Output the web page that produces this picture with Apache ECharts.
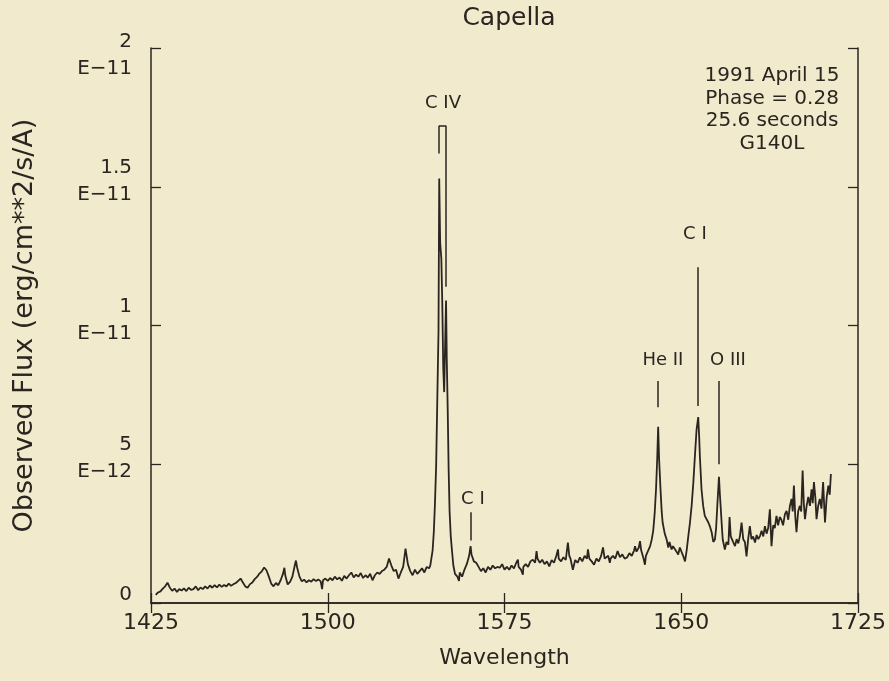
<!DOCTYPE html>
<html>
<head>
<meta charset="utf-8">
<script src="https://cdn.jsdelivr.net/npm/echarts@6/dist/echarts.min.js"></script>
<style>
html,body{margin:0;padding:0;background:#f1eacc;}
#chart{width:889px;height:681px;}
</style>
</head>
<body>
<div id="chart"></div>
<script>
// Flux values are in units of 1E-12 erg/cm**2/s/A
var specA = [[1427,0.29],[1428,0.38],[1429,0.42],[1430,0.52],[1431,0.6],[1432,0.73],[1433,0.55],[1434,0.44],[1435,0.52],[1436,0.4],[1437,0.5],[1438,0.45],[1439,0.53],[1440,0.43],[1441,0.55],[1442,0.47],[1443,0.5],[1444,0.6],[1445,0.46],[1446,0.56],[1447,0.5],[1448,0.6],[1449,0.52],[1450,0.63],[1451,0.55],[1452,0.64],[1453,0.56],[1454,0.66],[1455,0.58],[1456,0.65],[1457,0.6],[1458,0.7],[1459,0.62],[1460,0.68],[1461,0.72],[1462,0.8],[1463,0.88],[1464,0.74],[1465,0.6],[1466,0.55],[1467,0.68],[1468,0.74],[1469,0.86],[1470,0.94],[1471,1.06],[1472,1.14],[1473,1.28],[1474,1.18],[1475,0.95],[1476,0.7],[1477,0.6],[1478,0.72],[1479,0.64],[1480,0.82],[1481,1.05],[1481.6,1.27],[1482,0.98],[1483,0.67],[1484,0.76],[1485,0.95],[1486,1.35],[1486.5,1.53],[1487,1.28],[1488,0.95],[1489,0.78],[1490,0.84],[1491,0.74],[1492,0.82],[1493,0.77],[1494,0.86],[1495,0.79],[1496,0.85],[1497,0.78],[1497.6,0.5],[1498,0.82],[1499,0.88],[1500,0.8]];
var specB = [[1501,0.9],[1502,0.82],[1503,0.95],[1504,0.85],[1505,0.92],[1506,0.8],[1507,0.98],[1508,0.88],[1509,1.0],[1510,1.1],[1511,0.92],[1512,1.02],[1513,0.95],[1514,1.08],[1515,0.9],[1516,1.0],[1517,0.92],[1518,1.05],[1519,0.82],[1520,1.0],[1521,1.1],[1522,1.05],[1523,1.15],[1524,1.2],[1525,1.3],[1526,1.6],[1527,1.35],[1528,1.15],[1529,1.2],[1530,0.88],[1531,1.1],[1532,1.3],[1533,1.96],[1534,1.4],[1535,1.15],[1536,1.0],[1537,1.2],[1538,1.05],[1539,1.15],[1540,1.25],[1541,1.1],[1542,1.3],[1543,1.25],[1543.5,1.35],[1544,1.4],[1544.5,1.9],[1545,2.55],[1545.5,3.6],[1546,4.96],[1546.5,7.4],[1547,9.8],[1547.3,15.3],[1547.7,13.0],[1548.2,12.4],[1548.6,10.8],[1549,8.5],[1549.4,7.6],[1549.8,9.3],[1550.2,10.9],[1550.5,8.8],[1550.9,7.0],[1551.3,4.8],[1551.7,3.3],[1552.2,2.4],[1552.7,1.9],[1553.3,1.35],[1554,1.05],[1555,0.95],[1555.7,0.8],[1556,1.1],[1557,0.95],[1558,1.2],[1559,1.4],[1560,1.7],[1560.6,2.05],[1561,1.75],[1562,1.5],[1563,1.45],[1564,1.3],[1565,1.15],[1566,1.25],[1567,1.1],[1568,1.3],[1569,1.2],[1570,1.35],[1571,1.25],[1572,1.3],[1573,1.27],[1574,1.4],[1575,1.2]];
var specC = [[1576,1.3],[1577,1.2],[1578,1.35],[1579,1.25],[1580,1.45],[1580.7,1.56],[1581,1.3],[1582,1.2],[1582.8,1.02],[1583,1.3],[1584,1.4],[1585,1.3],[1586,1.5],[1587,1.56],[1588,1.45],[1588.6,1.87],[1589,1.6],[1590,1.45],[1591,1.56],[1592,1.4],[1593,1.5],[1594,1.32],[1595,1.55],[1596,1.45],[1597,1.7],[1597.7,1.93],[1598,1.6],[1599,1.5],[1600,1.65],[1601,1.55],[1601.9,2.18],[1602.5,1.7],[1603,1.6],[1604,1.2],[1605,1.55],[1606,1.45],[1607,1.64],[1608,1.5],[1609,1.7],[1610,1.6],[1610.4,1.93],[1611,1.6],[1612,1.5],[1613,1.38],[1614,1.6],[1615,1.5],[1616,1.7],[1616.8,2.0],[1617.5,1.6],[1618,1.55],[1619,1.7],[1619.7,1.45],[1620,1.6],[1621,1.7],[1622,1.6],[1623,1.87],[1624,1.65],[1625,1.75],[1626,1.6],[1627,1.64],[1628,1.8],[1629,1.7],[1630,1.9],[1630.4,2.05],[1631,1.85],[1632,2.0],[1632.5,2.23],[1633,1.9],[1634,1.6],[1634.6,1.38],[1635,1.7],[1636,1.9],[1636.8,2.05],[1637.5,2.3],[1638.1,2.6],[1638.7,3.2],[1639.3,4.1],[1639.8,5.2],[1640.2,6.35],[1640.6,5.2],[1641.2,4.1],[1641.7,3.3],[1642.1,2.9],[1643,2.5],[1643.8,2.29],[1644.5,2.0],[1645,2.2],[1645.9,1.93],[1646.5,2.05],[1647.3,2.1],[1648,1.85],[1648.7,1.75],[1649.4,2.0],[1650.1,1.93]];
var specD = [[1650.8,1.7],[1651.6,1.5],[1652.3,1.9],[1653,2.41],[1653.7,2.9],[1654.4,3.5],[1655.1,4.3],[1655.8,5.3],[1656.5,6.25],[1657.2,6.7],[1657.6,6.0],[1657.9,5.3],[1658.6,4.1],[1659.3,3.5],[1660,3.14],[1660.7,3.2],[1661.5,2.9],[1662.2,2.75],[1662.9,2.55],[1663.6,2.2],[1664.3,2.29],[1664.8,2.7],[1665.3,3.5],[1666,4.55],[1666.4,3.9],[1666.7,3.5],[1667.2,2.8],[1667.6,2.29],[1668.5,1.93],[1669.2,2.2],[1670,2.1],[1670.5,3.1],[1671,2.4],[1672,2.2],[1672.8,2.05],[1673.5,2.3],[1674.2,2.15],[1674.9,2.41],[1675.6,2.9],[1676.3,2.3],[1677,2.2],[1677.7,1.68],[1678.4,2.3],[1679.1,2.77],[1679.8,2.3],[1680.5,2.4],[1681.3,2.18],[1682,2.45],[1682.7,2.3],[1683.4,2.41],[1684.1,2.6],[1684.8,2.4],[1685.5,2.77],[1686.2,2.5],[1686.9,2.7],[1687.6,3.38],[1688.3,2.05],[1689,2.8],[1689.7,2.7],[1690.4,3.14],[1691.1,2.8],[1691.8,3.1],[1692.5,3.0],[1693.2,2.8],[1694,3.2],[1694.7,3.32],[1695.4,3.0],[1696.1,3.5],[1696.8,3.75],[1697.3,3.3],[1697.8,4.23],[1698.4,3.1],[1698.9,2.55],[1699.6,3.3],[1700.3,3.5],[1700.9,3.3],[1701.5,4.77],[1702,3.6],[1702.5,3.02],[1703.2,3.5],[1703.9,3.82],[1704.6,3.5],[1705.3,4.1],[1705.8,3.6],[1706.3,4.36],[1706.9,3.8],[1707.4,3.02],[1708.1,3.5],[1708.8,3.75],[1709.5,3.4],[1710.2,4.36],[1710.6,3.6],[1711,2.9],[1711.7,3.8],[1712.4,4.23],[1713,3.9],[1713.5,4.65]];

var xTicks = [1425, 1500, 1575, 1650, 1725];
var yTickValues = [0, 5, 10, 15, 20];
var yTickMantissa = ['0', '5', '1', '1.5', '2'];
var yTickExponent = ['', 'E\u221212', 'E\u221211', 'E\u221211', 'E\u221211'];

// line identifications: name, wavelength / flux of label centre
var lineIdNames = ['C IV', 'C I', 'He II', 'C I', 'O III'];
var lineIdPos = [[1548.9, 18.0], [1561.6, 3.75], [1642.2, 8.75], [1655.8, 13.3], [1669.8, 8.75]];
// marker segments: [lambda1, flux1, lambda2, flux2]
var markerSegs = [[1547.2,16.2,1547.2,17.2],[1547.2,17.2,1550.2,17.2],[1550.2,17.2,1550.2,11.4],[1560.6,3.27,1560.6,2.25],[1640.2,8.0,1640.2,7.05],[1657.0,12.1,1657.0,7.1],[1666.0,8.0,1666.0,5.0]];

var infoLines = ['1991 April 15', 'Phase = 0.28', '25.6 seconds', 'G140L'];

var ink = '#2b2521';
var font = 'DejaVu Sans';
var spectrum = specA.concat(specB, specC, specD);

var chart = echarts.init(document.getElementById('chart'), null, {renderer: 'canvas'});

function yFmt(v) {
  var i = yTickValues.indexOf(v);
  if (i < 0) return '';
  if (i === 0) return '{n|' + yTickMantissa[i] + '}\n{g0| }';
  if (i === yTickValues.length - 1) return '{gt| }\n{n|' + yTickMantissa[i] + '}\n{n|' + yTickExponent[i] + '}';
  return '{n|' + yTickMantissa[i] + '}\n{n|' + yTickExponent[i] + '}\n{g| }';
}

var axisCommon = {
  axisLine: {show: true, lineStyle: {color: ink, width: 1.5}},
  axisTick: {show: true, inside: true, length: 10, lineStyle: {color: ink, width: 1.3}},
  splitLine: {show: false}
};

var option = {
  backgroundColor: '#f1eacc',
  animation: false,
  title: {
    text: 'Capella', left: 504, top: 1, textAlign: 'center',
    textStyle: {fontFamily: font, fontWeight: 'normal', fontSize: 25, color: ink}
  },
  grid: {left: 151, right: 31, top: 48, bottom: 78, outerBoundsMode: 'none', containLabel: false},
  xAxis: [
    Object.assign({}, axisCommon, {
      type: 'value', min: 1425, max: 1725, interval: 75, position: 'bottom',
      name: 'Wavelength', nameLocation: 'middle', nameGap: 44,
      nameTextStyle: {fontFamily: font, fontSize: 22, color: ink},
      axisLabel: {fontFamily: font, fontSize: 22, color: ink, margin: 9,
        formatter: function (v) { return xTicks.indexOf(v) >= 0 ? String(v) : ''; }}
    }),
    Object.assign({}, axisCommon, {
      type: 'value', min: 1425, max: 1725, interval: 75, position: 'top',
      axisLabel: {show: false}
    })
  ],
  yAxis: [
    Object.assign({}, axisCommon, {
      type: 'value', min: 0, max: 20, interval: 5, position: 'left',
      name: 'Observed Flux (erg/cm**2/s/A)', nameLocation: 'middle', nameGap: 113,
      nameTextStyle: {fontFamily: font, fontSize: 27, color: ink},
      axisLabel: {color: ink, margin: 19, align: 'right', verticalAlign: 'middle', formatter: yFmt,
        rich: {
          n: {fontFamily: font, fontSize: 20, color: ink, lineHeight: 27, align: 'right'},
          g: {fontSize: 1, lineHeight: 11},
          g0: {fontSize: 1, lineHeight: 16},
          gt: {fontSize: 1, lineHeight: 14}
        }}
    }),
    Object.assign({}, axisCommon, {
      type: 'value', min: 0, max: 20, interval: 5, position: 'right',
      axisLabel: {show: false}
    })
  ],
  series: [
    {
      name: 'spectrum', type: 'line', xAxisIndex: 0, yAxisIndex: 0,
      data: spectrum, showSymbol: false, symbol: 'none',
      lineStyle: {color: ink, width: 1.8}, z: 3,
      markLine: {
        silent: true, symbol: ['none', 'none'], label: {show: false},
        lineStyle: {color: ink, width: 1.5, type: 'solid'},
        data: markerSegs.map(function (s) {
          return [{coord: [s[0], s[1]]}, {coord: [s[2], s[3]]}];
        })
      }
    },
    {
      name: 'ids', type: 'scatter', xAxisIndex: 0, yAxisIndex: 0,
      symbolSize: 0, silent: true, itemStyle: {opacity: 1, color: ink},
      data: lineIdNames.map(function (n, i) { return {name: n, value: lineIdPos[i]}; }),
      label: {show: true, position: 'inside', formatter: '{b}',
        fontFamily: font, fontSize: 18, color: ink, opacity: 1}
    }
  ],
  graphic: [{
    type: 'text', x: 772, y: 65,
    style: {
      text: infoLines.join('\n'), textAlign: 'center', textVerticalAlign: 'top',
      font: '20px "DejaVu Sans"', fill: ink, lineHeight: 22.5
    }
  }]
};
chart.setOption(option);
</script>
</body>
</html>
